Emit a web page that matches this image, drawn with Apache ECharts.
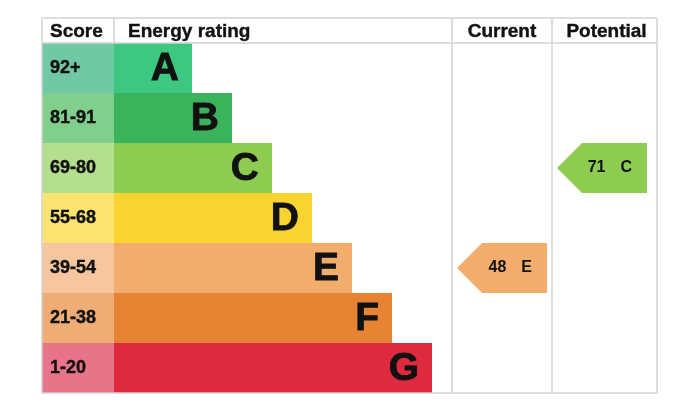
<!DOCTYPE html>
<html>
<head>
<meta charset="utf-8">
<script src="https://cdn.jsdelivr.net/npm/echarts@6/dist/echarts.min.js"></script>
<style>html,body{margin:0;padding:0;background:#fff}#c{width:700px;height:400px}</style>
</head>
<body>
<div id="c"></div>
<script>
// ---- data ----
const bands = ['A', 'B', 'C', 'D', 'E', 'F', 'G'];
const scoreRanges = ['92+', '81-91', '69-80', '55-68', '39-54', '21-38', '1-20'];
const bandMin = [92, 81, 69, 55, 39, 21, 1];
const headers = ['Score', 'Energy rating', 'Current', 'Potential'];
const currentScore = 48;
const potentialScore = 71;

// ---- styles ----
const barColors = ['#3dc882', '#3bb35d', '#8ecb51', '#f9d431', '#f2ac6b', '#e68433', '#dd2a3f'];
const scoreColors = ['#70c8a4', '#80cf8d', '#b4df8f', '#fbe371', '#f6c79e', '#efac74', '#e8748a'];
const FONT = '"Liberation Sans", Arial, sans-serif';
const LINE = '#d3d3d3';
const TXT = '#111111';

// ---- layout (axis units == table width split into columns) ----
const G = { left: 42, right: 43, top: 43, bottom: 7, headerTop: 18 };
const W = 700 - G.left - G.right;          // table width
const scoreColW = 72;
const barBase = 78, barStep = 40;
const curCol = [410, 510], potCol = [510, W];

function bandOf(score) {
  for (let i = 0; i < bandMin.length; i++) if (score >= bandMin[i]) return i;
  return bandMin.length - 1;
}

const scoreData = bands.map((b, i) => ({ value: scoreColW, itemStyle: { color: scoreColors[i] } }));
const barData = bands.map((b, i) => ({ value: barBase + barStep * i, itemStyle: { color: barColors[i] } }));
const arrowData = [
  { value: [curCol[0] + 5, bandOf(currentScore), currentScore, bands[bandOf(currentScore)], curCol[0] + 95] },
  { value: [potCol[0] + 5, bandOf(potentialScore), potentialScore, bands[bandOf(potentialScore)], potCol[0] + 95] }
];

const chart = echarts.init(document.getElementById('c'), null, { renderer: 'canvas' });

// table frame (header + columns)
const x = u => G.left + u;
const yTop = G.headerTop, yHead = G.top, yBot = 400 - G.bottom;
const lines = [
  [x(0), yTop, x(W), yTop],
  [x(0), yHead, x(W), yHead],
  [x(0), yBot, x(W), yBot],
  [x(0), yTop, x(0), yBot],
  [x(scoreColW), yTop, x(scoreColW), yHead],
  [x(curCol[0]), yTop, x(curCol[0]), yBot],
  [x(potCol[0]), yTop, x(potCol[0]), yBot],
  [x(W), yTop, x(W), yBot]
];
const hy = (yTop + yHead) / 2 + 1;
const headerPos = [
  { x: x(8), align: 'left' },
  { x: x(scoreColW + 14), align: 'left' },
  { x: x((curCol[0] + curCol[1]) / 2), align: 'center' },
  { x: x((potCol[0] + potCol[1]) / 2 + 2), align: 'center' }
];
const graphics = lines.map(l => ({
  type: 'line', z: 10, silent: true,
  shape: { x1: l[0], y1: l[1], x2: l[2], y2: l[3] },
  style: { stroke: LINE, lineWidth: 1.5 }
})).concat(headers.map((h, i) => ({
  type: 'text', z: 11,
  x: headerPos[i].x, y: hy,
  style: { text: h, fill: TXT, font: 'bold 19px ' + FONT, textAlign: headerPos[i].align, textVerticalAlign: 'middle',
           stroke: TXT, lineWidth: 0.4 }
})));

chart.setOption({
  animation: false,
  grid: { left: G.left, right: G.right, top: G.top, bottom: G.bottom, containLabel: false },
  xAxis: { type: 'value', min: 0, max: W, show: false },
  yAxis: { type: 'category', data: bands, inverse: true, show: false },
  graphic: graphics,
  series: [
    {
      type: 'bar', stack: 'row', barCategoryGap: '0%', data: scoreData,
      label: {
        show: true, position: 'insideLeft', distance: 8,
        formatter: p => scoreRanges[p.dataIndex],
        color: TXT, fontFamily: FONT, fontWeight: 'bold', fontSize: 18,
        textBorderColor: TXT, textBorderWidth: 0.4
      }
    },
    {
      type: 'bar', stack: 'row', barCategoryGap: '0%', data: barData,
      label: {
        show: true, position: 'insideRight', distance: 13, offset: [0, 1],
        formatter: p => bands[p.dataIndex],
        color: TXT, fontFamily: FONT, fontWeight: 'bold', fontSize: 39,
        textBorderColor: TXT, textBorderWidth: 0.8
      }
    },
    {
      type: 'custom', data: arrowData, z: 5,
      renderItem: function (params, api) {
        const row = api.value(1);
        const pl = api.coord([api.value(0), row]);
        const pr = api.coord([api.value(4), row]);
        const h = api.size([0, 1])[1];
        const top = pl[1] - h / 2, bot = pl[1] + h / 2;
        const idx = row;
        return {
          type: 'group',
          children: [
            {
              type: 'polygon',
              shape: { points: [[pl[0], pl[1]], [pl[0] + h / 2, top], [pr[0], top], [pr[0], bot], [pl[0] + h / 2, bot]] },
              style: { fill: barColors[idx] }
            },
            {
              type: 'text',
              x: pr[0] - 15, y: pl[1],
              style: {
                text: '{n|' + api.value(2) + '}{l|' + bands[idx] + '}',
                textAlign: 'right', textVerticalAlign: 'middle',
                rich: {
                  n: { fontFamily: FONT, fontWeight: 'bold', fontSize: 16, fill: TXT, color: TXT },
                  l: { fontFamily: FONT, fontWeight: 'bold', fontSize: 16, fill: TXT, color: TXT, padding: [0, 0, 0, 15] }
                }
              }
            }
          ]
        };
      }
    }
  ]
});
</script>
</body>
</html>
